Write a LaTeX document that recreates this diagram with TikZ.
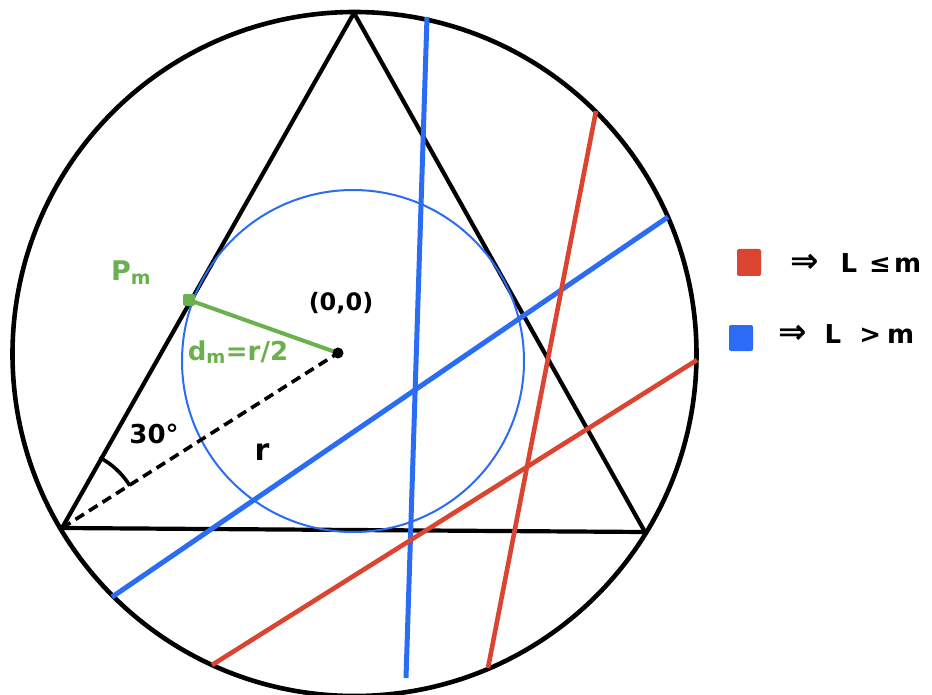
\documentclass[tikz,border=0pt]{standalone}
\usepackage{fontspec}
\setmainfont{DejaVu Sans}
\definecolor{hred}{HTML}{DB4430}
\definecolor{hblue}{HTML}{2B6CF5}
\definecolor{hgreen}{HTML}{6AB04C}
\newcommand{\bigarrow}{{\fontsize{34}{34}\selectfont ⇒}}
\begin{document}
\begin{tikzpicture}[x=1pt,y=-1pt,
  blk/.style={black,line width=4.6pt},
  tri/.style={black,line width=4.2pt,line join=round},
  incirc/.style={hblue,line width=2pt},
  bluechord/.style={hblue,line width=5pt},
  redchord/.style={hred,line width=4.6pt},
  dashline/.style={black,line width=3.6pt,dash pattern=on 10pt off 6pt},
  greenline/.style={hgreen,line width=4pt},
  lbl/.style={inner sep=0pt,font=\bfseries\fontsize{25}{30}\selectfont},
  legtext/.style={inner sep=0pt,anchor=west,font=\bfseries\fontsize{26}{32}\selectfont},
  legbox/.style={rounded corners=2pt}]
\useasboundingbox (0,0) rectangle (932,695);
\fill[white] (0,0) rectangle (932,695);
% outer circle
\coordinate (O) at (354.5,354);
\draw[blk] (O) circle[radius=342pt];
% triangle
\coordinate (A) at (354,13);
\coordinate (B) at (62,528);
\coordinate (C) at (645,532);
\draw[tri] (A) -- (B) -- (C) -- cycle;
% incircle
\coordinate (I) at (353,361);
\draw[incirc] (I) circle[radius=171pt];
% chords
\coordinate (bv1) at (427,17);
\coordinate (bv2) at (406,678);
\coordinate (bd1) at (668,217);
\coordinate (bd2) at (112,597);
\coordinate (ra1) at (596,111);
\coordinate (ra2) at (488,668);
\coordinate (rb1) at (697,360);
\coordinate (rb2) at (212,665);
\draw[bluechord] (bv1) -- (bv2);
\draw[bluechord] (bd1) -- (bd2);
\draw[redchord] (ra1) -- (ra2);
\draw[redchord] (rb1) -- (rb2);
% center, radius, distance
\coordinate (c0) at (338,353);
\coordinate (pm) at (189,300);
\draw[dashline] (B) -- (c0);
\draw[greenline] (pm) -- (c0);
\fill[black] (c0) circle[radius=5.5pt];
\fill[hgreen,rounded corners=2pt] (183,294) rectangle (195,306);
% angle arc
\coordinate (arcS) at (129.8,485.6);
\draw[black,line width=3.6pt] (arcS) arc[start angle=32,end angle=62,radius=80pt];
% labels
\node[lbl,text=hgreen,font=\bfseries\fontsize{27}{30}\selectfont] (lpm) at (131,273) {P\textsubscript{m}};
\node[lbl,font=\bfseries\fontsize{24}{30}\selectfont] (l00) at (341,303) {(0,0)};
\node[lbl,text=hgreen,font=\bfseries\fontsize{26}{30}\selectfont] (ldm) at (238,352) {d\textsubscript{m}=r/2};
\node[lbl,font=\bfseries\fontsize{26}{30}\selectfont] (l30) at (154,434) {30°};
\node[lbl,font=\bfseries\fontsize{30}{30}\selectfont] (lr) at (262,452) {r};
% legend
\fill[hred,legbox] (737,249) rectangle (761,276);
\node[legtext] (leg1) at (790,263) {\bigarrow\hspace{22pt}L\hspace{12pt}≤\hspace{3pt}m};
\fill[hblue,legbox] (729,325) rectangle (753,351);
\node[legtext] (leg2) at (778,334) {\bigarrow\hspace{18pt}L\hspace{18pt}>\hspace{6pt}m};
\end{tikzpicture}
\end{document}
